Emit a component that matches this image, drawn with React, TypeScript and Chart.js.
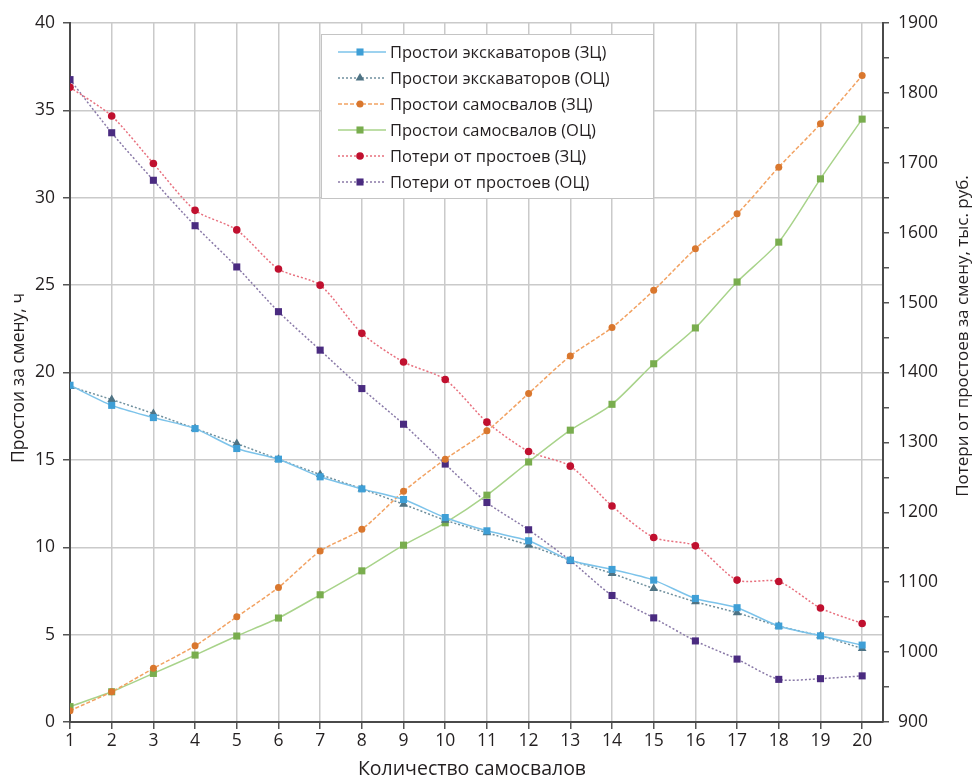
import React, { useEffect, useRef } from "react";
import { Chart, registerables } from "chart.js";

Chart.register(...registerables);

const trucks = [1, 2, 3, 4, 5, 6, 7, 8, 9, 10, 11, 12, 13, 14, 15, 16, 17, 18, 19, 20];
const excavZC = [19.27, 18.12, 17.42, 16.79, 15.65, 15.04, 14.03, 13.34, 12.73, 11.7, 10.94, 10.37, 9.26, 8.73, 8.12, 7.07, 6.54, 5.49, 4.93, 4.4];
const excavOC = [19.2, 18.45, 17.65, 16.79, 15.93, 15.04, 14.16, 13.34, 12.46, 11.55, 10.83, 10.12, 9.26, 8.5, 7.64, 6.88, 6.25, 5.49, 4.93, 4.21];
const truckZC = [0.65, 1.73, 3.07, 4.36, 6.02, 7.7, 9.78, 11.03, 13.2, 15.04, 16.66, 18.8, 20.95, 22.57, 24.7, 27.08, 29.08, 31.75, 34.23, 36.99];
const truckOC = [0.88, 1.73, 2.78, 3.83, 4.92, 5.95, 7.28, 8.65, 10.12, 11.4, 12.98, 14.88, 16.7, 18.18, 20.5, 22.55, 25.18, 27.46, 31.08, 34.5];
const lossZC = [1808, 1767, 1699, 1632, 1604, 1548, 1525, 1456, 1415, 1390, 1329, 1287, 1266, 1209, 1164, 1152, 1103, 1101, 1063, 1041];
const lossOC = [1819, 1743, 1675, 1610, 1551, 1487, 1432, 1377, 1326, 1269, 1214, 1175, 1131, 1081, 1049, 1016, 990, 961, 962, 966];

const seriesLabels = [
  "Простои экскаваторов (ЗЦ)",
  "Простои экскаваторов (ОЦ)",
  "Простои самосвалов (ЗЦ)",
  "Простои самосвалов (ОЦ)",
  "Потери от простоев (ЗЦ)",
  "Потери от простоев (ОЦ)",
];
const leftTitle = "Простои за смену, ч";
const rightTitle = "Потери от простоев за смену, тыс. руб.";
const xTitle = "Количество самосвалов";

const FONT = "'Open Sans', sans-serif";
const TEXT = "#231f20";

type Style = { line: string; marker: string; shape: string; r: number; dash: number[]; axis: string };
const styles: Style[] = [
  { line: "#7cc3ea", marker: "#3f9fd6", shape: "rect", r: 5, dash: [], axis: "y" },
  { line: "#70909e", marker: "#4e7384", shape: "triangle", r: 5, dash: [2, 2], axis: "y" },
  { line: "#f2a262", marker: "#d9772e", shape: "circle", r: 3.5, dash: [4, 2], axis: "y" },
  { line: "#a8d38a", marker: "#79ad4e", shape: "rect", r: 5, dash: [], axis: "y" },
  { line: "#e8707e", marker: "#c0102f", shape: "circle", r: 3.8, dash: [2, 2], axis: "y2" },
  { line: "#8a7aa8", marker: "#4a2b80", shape: "rect", r: 5, dash: [2, 2], axis: "y2" },
];
const seriesValues = [excavZC, excavOC, truckZC, truckOC, lossZC, lossOC];

function drawMarker(ctx: CanvasRenderingContext2D, shape: string, x: number, y: number, r: number) {
  ctx.beginPath();
  if (shape === "rect") {
    const s = r * Math.SQRT1_2;
    ctx.rect(x - s, y - s, 2 * s, 2 * s);
  } else if (shape === "triangle") {
    ctx.moveTo(x, y - r);
    ctx.lineTo(x + r * 0.866, y + r * 0.5);
    ctx.lineTo(x - r * 0.866, y + r * 0.5);
    ctx.closePath();
  } else {
    ctx.arc(x, y, r, 0, Math.PI * 2);
  }
  ctx.fill();
}

const decor = {
  id: "decor",
  afterDraw(chart: any) {
    const ctx: CanvasRenderingContext2D = chart.ctx;
    ctx.save();
    // legend
    const bx = 321, by = 34, bw = 332, bh = 164;
    ctx.fillStyle = "#ffffff";
    ctx.fillRect(bx, by, bw, bh);
    ctx.strokeStyle = "#c4c4c4";
    ctx.lineWidth = 1;
    ctx.setLineDash([]);
    ctx.strokeRect(bx + 0.5, by + 0.5, bw, bh);
    ctx.font = `16.5px ${FONT}`;
    ctx.textBaseline = "middle";
    ctx.textAlign = "left";
    seriesLabels.forEach((lab, i) => {
      const st = styles[i];
      const y = 52 + i * 26;
      ctx.strokeStyle = st.line;
      ctx.lineWidth = 1.5;
      ctx.setLineDash(st.dash);
      ctx.beginPath();
      ctx.moveTo(338, y);
      ctx.lineTo(386, y);
      ctx.stroke();
      ctx.setLineDash([]);
      ctx.fillStyle = st.marker;
      drawMarker(ctx, st.shape, 360, y, st.r);
      ctx.fillStyle = TEXT;
      ctx.fillText(lab, 390, y + 1);
    });
    // titles
    ctx.fillStyle = TEXT;
    ctx.textAlign = "center";
    ctx.textBaseline = "middle";
    ctx.font = `17.5px ${FONT}`;
    ctx.save();
    ctx.translate(19, 378);
    ctx.rotate(-Math.PI / 2);
    ctx.fillText(leftTitle, 0, 0);
    ctx.restore();
    ctx.font = `17px ${FONT}`;
    ctx.save();
    ctx.translate(963, 336);
    ctx.rotate(-Math.PI / 2);
    ctx.fillText(rightTitle, 0, 0);
    ctx.restore();
    ctx.font = `19.5px ${FONT}`;
    ctx.fillText(xTitle, 472, 769);
    ctx.restore();
  },
};

export default function App() {
  const ref = useRef<HTMLCanvasElement | null>(null);
  useEffect(() => {
    document.body.style.margin = "0";
    const canvas = ref.current;
    if (!canvas) return;
    const datasets = seriesValues.map((vals, i) => {
      const st = styles[i];
      return {
        label: seriesLabels[i],
        data: trucks.map((t, j) => ({ x: t, y: vals[j] })),
        yAxisID: st.axis,
        borderColor: st.line,
        backgroundColor: st.marker,
        borderWidth: 1.5,
        borderDash: st.dash,
        pointStyle: st.shape,
        pointRadius: st.r,
        pointBorderWidth: 0,
        pointBackgroundColor: st.marker,
        pointBorderColor: st.marker,
        tension: 0.25,
        fill: false,
      };
    });
    const tickFont = { family: FONT, size: 17.5 };
    const chart = new Chart(canvas, {
      type: "line",
      data: { datasets },
      options: {
        responsive: false,
        animation: false,
        layout: { padding: { top: 23, left: 0, right: 0, bottom: 0 } },
        plugins: { legend: { display: false }, tooltip: { enabled: false } },
        scales: {
          x: {
            type: "linear",
            min: 1,
            max: 20.5,
            afterBuildTicks: (s: any) => {
              s.ticks = trucks.map((v) => ({ value: v }));
            },
            afterFit: (s: any) => {
              s.height = 57;
            },
            ticks: { stepSize: 1, color: TEXT, font: tickFont, padding: 2, maxRotation: 0, autoSkip: false },
            grid: { color: "#cacaca", lineWidth: 1.5, tickColor: "#555", tickLength: 7 },
            border: { display: true, color: "#4a4a4a", width: 2 },
          },
          y: {
            type: "linear",
            position: "left",
            min: 0,
            max: 40,
            afterFit: (s: any) => {
              s.width = 70;
            },
            ticks: { stepSize: 5, color: TEXT, font: tickFont, padding: 8 },
            grid: { color: "#cacaca", lineWidth: 1.5, tickColor: "#555", tickLength: 7 },
            border: { display: true, color: "#4a4a4a", width: 2 },
          },
          y2: {
            type: "linear",
            position: "right",
            min: 900,
            max: 1900,
            afterFit: (s: any) => {
              s.width = 89;
            },
            ticks: {
              stepSize: 50,
              color: TEXT,
              font: tickFont,
              padding: 9,
              autoSkip: false,
              callback: (v: any) => (Number(v) % 100 === 0 ? String(v) : ""),
            },
            grid: { drawOnChartArea: false, tickColor: "#555", tickLength: 6, lineWidth: 1.5 },
            border: { display: true, color: "#4a4a4a", width: 2 },
          },
        },
      } as any,
      plugins: [decor],
    });
    return () => chart.destroy();
  }, []);
  return (
    <div style={{ width: 972, height: 779, background: "#fff" }}>
      <canvas ref={ref} width={972} height={779} style={{ display: "block", width: 972, height: 779 }} />
    </div>
  );
}
